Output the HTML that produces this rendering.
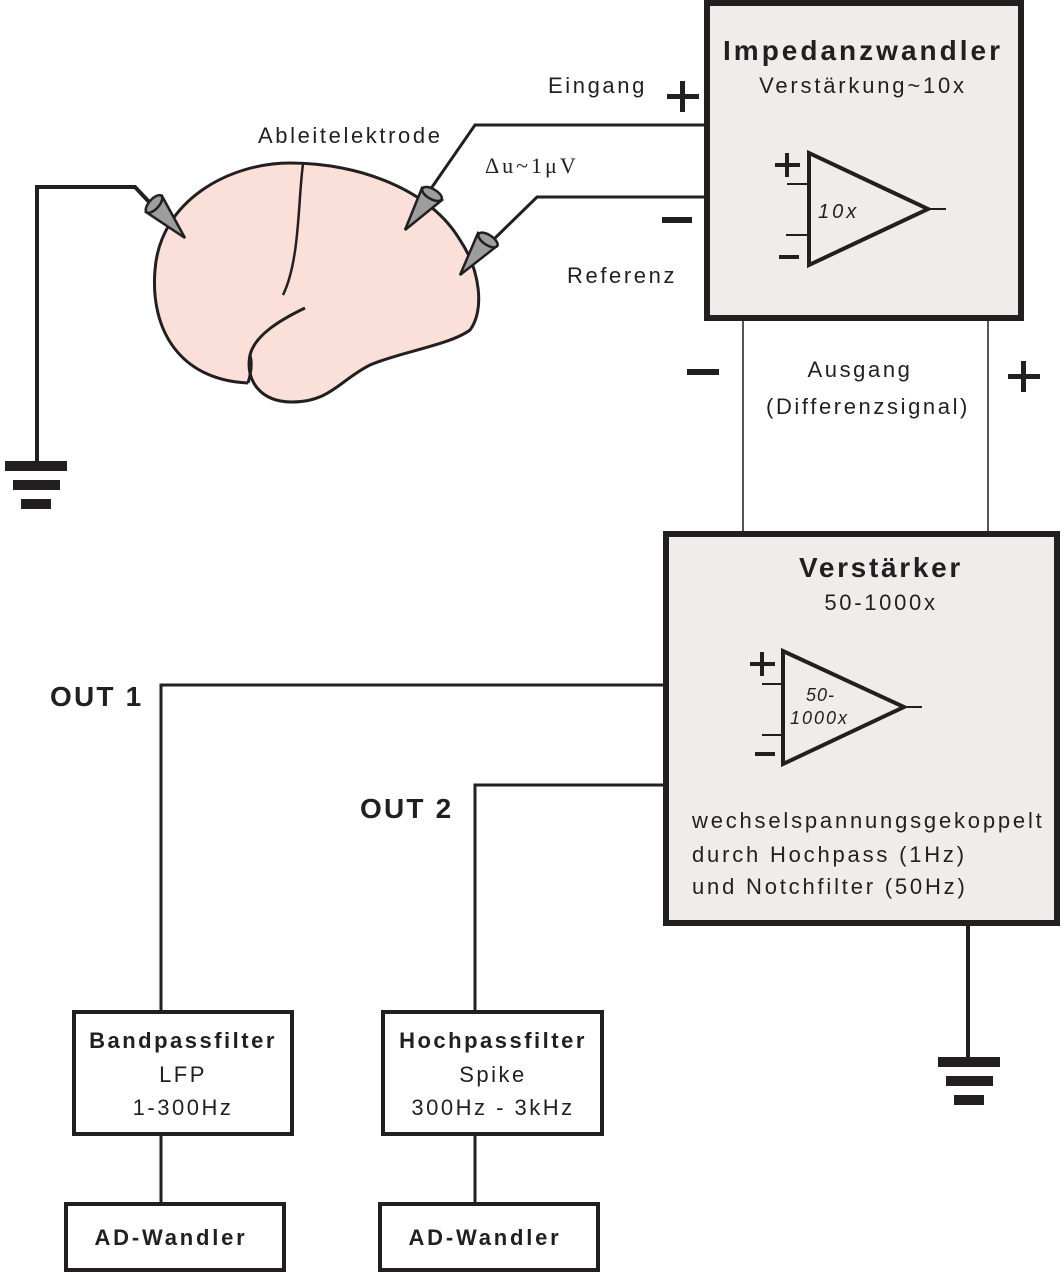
<!DOCTYPE html>
<html><head><meta charset="utf-8"><style>
html,body{margin:0;padding:0;background:#fff;}
svg{display:block;font-family:"Liberation Sans",sans-serif;fill:#231f20;}
</style></head><body>
<svg width="1064" height="1272" viewBox="0 0 1064 1272" xmlns="http://www.w3.org/2000/svg">
<g stroke="#231f20" fill="none">
<rect x="707" y="3" width="314" height="315" fill="#eeede9" stroke-width="6"/>
<rect x="666" y="534" width="391" height="389" fill="#eeede9" stroke-width="6"/>
<rect x="74" y="1012" width="218" height="122" stroke-width="4"/>
<rect x="66" y="1204" width="218" height="66" stroke-width="4"/>
<rect x="383" y="1012" width="219" height="122" stroke-width="4"/>
<rect x="380" y="1204" width="218" height="66" stroke-width="4"/>
<line x1="743" y1="321" x2="743" y2="531" stroke-width="1.5"/>
<line x1="988" y1="321" x2="988" y2="531" stroke-width="1.5"/>
<polyline points="704,125 475,125 430,190" stroke-width="3"/>
<polyline points="704,197 537,197 490,243" stroke-width="3"/>
<polyline points="37,462 37,187 135,187 152,205" stroke-width="4"/>
<polyline points="663,685 161,685 161,1010" stroke-width="3"/>
<polyline points="663,785 475,785 475,1010" stroke-width="3"/>
<line x1="161" y1="1136" x2="161" y2="1202" stroke-width="3"/>
<line x1="475" y1="1136" x2="475" y2="1202" stroke-width="3"/>
<line x1="968" y1="926" x2="968" y2="1060" stroke-width="4"/>
<path d="M 248 383 C 180 380, 150 330, 155 270 C 160 200, 230 163, 290 163 C 360 163, 430 190, 460 240 C 480 270, 485 310, 470 330 C 450 345, 400 352, 370 365 C 340 380, 330 402, 292 402 C 260 402, 245 380, 250 355 C 255 335, 280 320, 305 308" fill="#fbe0da" stroke-width="3"/>
<path d="M 248 383 C 252 370 252 362 250 355" stroke-width="3"/>
<path d="M 303 164 C 298 200, 300 260, 283 295" stroke-width="2.5"/>
<polygon points="809,153 809,265 928,209" stroke-width="4"/>
<line x1="928" y1="209" x2="946" y2="209" stroke-width="2"/>
<line x1="787" y1="184" x2="809" y2="184" stroke-width="2"/>
<line x1="786" y1="235" x2="809" y2="235" stroke-width="2"/>
<polygon points="783,651 783,764 904,707" stroke-width="4"/>
<line x1="904" y1="707" x2="922" y2="707" stroke-width="2"/>
<line x1="762" y1="684" x2="783" y2="684" stroke-width="2"/>
<line x1="762" y1="735" x2="783" y2="735" stroke-width="2"/>
</g>
<g fill="#9d9d9f" stroke="#231f20" stroke-width="2.5">
<polygon points="185,238 146,212 162,196"/>
<ellipse cx="154" cy="204" rx="11" ry="5" transform="rotate(-48 154 204)"/>
<polygon points="405,230 422,188 442,200"/>
<ellipse cx="432" cy="194" rx="11" ry="5" transform="rotate(30 432 194)"/>
<polygon points="460,275 478,233 497,246"/>
<ellipse cx="488" cy="240" rx="11" ry="5" transform="rotate(33 488 240)"/>
</g>
<rect x="5" y="461" width="62" height="10"/>
<rect x="13" y="480" width="47" height="10"/>
<rect x="21" y="499" width="30" height="10"/>
<rect x="938" y="1057" width="62" height="10"/>
<rect x="946" y="1076" width="47" height="10"/>
<rect x="954" y="1095" width="30" height="10"/>
<rect x="667" y="94" width="32" height="5"/><rect x="680" y="81" width="5" height="31"/>
<rect x="662" y="217" width="30" height="6"/>
<rect x="687" y="369" width="32" height="6"/>
<rect x="1008" y="374" width="32" height="5"/><rect x="1021" y="361" width="5" height="31"/>
<rect x="775" y="163" width="25" height="4"/><rect x="785" y="153" width="4" height="24"/>
<rect x="779" y="255" width="20" height="4"/>
<rect x="750" y="662" width="25" height="4"/><rect x="760" y="652" width="4" height="24"/>
<rect x="755" y="752" width="20" height="4"/>
<g font-size="22" letter-spacing="2.6">
<text x="548" y="93">Eingang</text>
<text x="258" y="143">Ableitelektrode</text>
<text x="567" y="283">Referenz</text>
<text x="860" y="377" text-anchor="middle">Ausgang</text>
<text x="868" y="414" text-anchor="middle">(Differenzsignal)</text>
</g>
<text x="485" y="173" font-family="Liberation Serif,serif" font-size="22" letter-spacing="3">Δu~1μV</text>
<text x="863" y="60" text-anchor="middle" font-weight="bold" font-size="28" letter-spacing="3">Impedanzwandler</text>
<text x="863" y="93" text-anchor="middle" font-size="22" letter-spacing="2.8">Verstärkung~10x</text>
<text x="818" y="218" font-size="20" font-style="italic" letter-spacing="3">10x</text>
<text x="881" y="577" text-anchor="middle" font-weight="bold" font-size="28" letter-spacing="2.7">Verstärker</text>
<text x="881" y="610" text-anchor="middle" font-size="22" letter-spacing="2.7">50-1000x</text>
<text x="806" y="701" font-size="18" font-style="italic" letter-spacing="1">50-</text>
<text x="790" y="724" font-size="18" font-style="italic" letter-spacing="2">1000x</text>
<g font-size="22" letter-spacing="2.8">
<text x="692" y="828">wechselspannungsgekoppelt</text>
<text x="692" y="862">durch Hochpass (1Hz)</text>
<text x="692" y="894">und Notchfilter (50Hz)</text>
</g>
<text x="50" y="706" font-weight="bold" font-size="28" letter-spacing="2.2">OUT 1</text>
<text x="360" y="818" font-weight="bold" font-size="28" letter-spacing="2.2">OUT 2</text>
<g font-size="22" letter-spacing="2.5" text-anchor="middle">
<text x="183" y="1048" font-weight="bold">Bandpassfilter</text>
<text x="183" y="1082">LFP</text>
<text x="183" y="1115">1-300Hz</text>
<text x="493" y="1048" font-weight="bold">Hochpassfilter</text>
<text x="493" y="1082">Spike</text>
<text x="493" y="1115">300Hz - 3kHz</text>
<text x="171" y="1245" font-weight="bold" letter-spacing="2.8">AD-Wandler</text>
<text x="485" y="1245" font-weight="bold" letter-spacing="2.8">AD-Wandler</text>
</g>
</svg>
</body></html>
